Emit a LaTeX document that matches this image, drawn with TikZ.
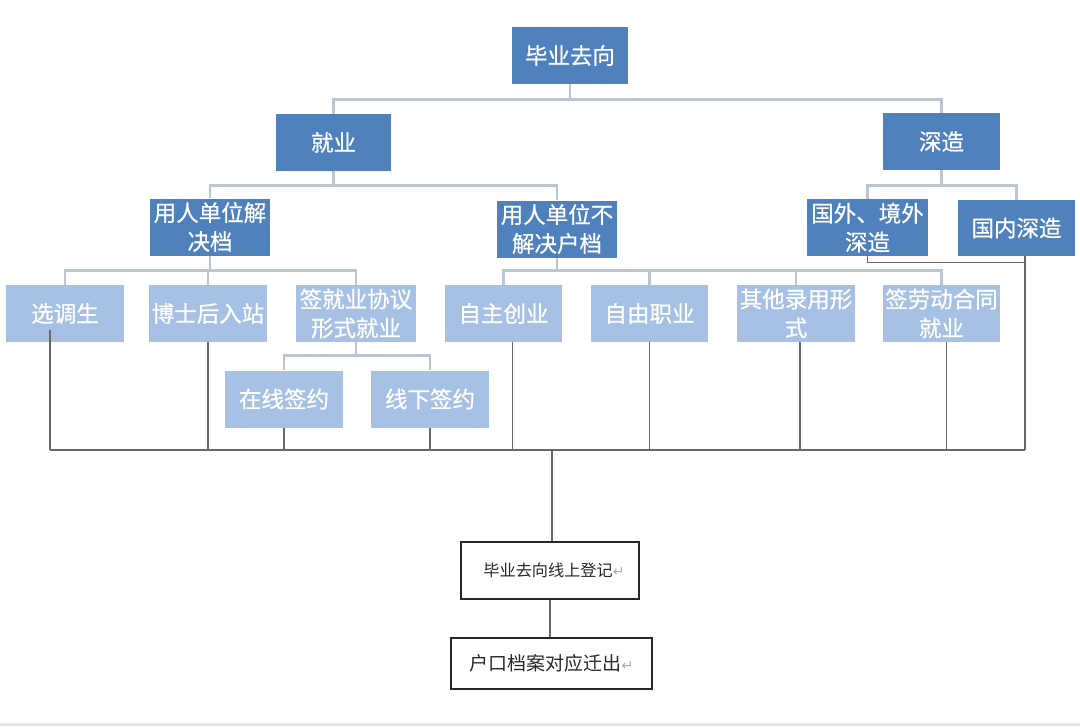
\documentclass[tikz,border=0pt]{standalone}
\usepackage{fontspec}
\usepackage{xcolor}
\usepackage{tikz}
\usetikzlibrary{positioning, calc}
\setmainfont{Noto Sans CJK SC}
\newfontfamily\boxfont{Noto Sans CJK SC}[FakeBold=0.6]
\newfontfamily\markfont{DejaVu Sans}
\definecolor{deepblue}{RGB}{79, 129, 189}
\definecolor{paleblue}{RGB}{166, 193, 227}
\definecolor{linegray}{RGB}{188, 198, 210}
\definecolor{wiregray}{RGB}{105, 105, 105}
\definecolor{inkgray}{RGB}{40, 40, 40}
\definecolor{markgray}{RGB}{170, 170, 170}
\definecolor{stripgray}{RGB}{228, 228, 228}
\newcommand{\pmark}{{\markfont\fontsize{10}{10}\selectfont\color{markgray}↵}}
\tikzset{
  deepbox/.style={rectangle, fill=deepblue, text=white, minimum width=#1,
              minimum height=1.425cm, inner sep=1pt, align=center,
              font=\boxfont\fontsize{16}{20.5}\selectfont},
  deepbox/.default=2.9cm,
  palebox/.style={rectangle, fill=paleblue, text=white, minimum width=#1,
              minimum height=1.425cm, inner sep=1pt, align=center,
              font=\boxfont\fontsize{16}{20.5}\selectfont},
  palebox/.default=2.925cm,
  wordbox/.style={rectangle, draw=inkgray, line width=0.8pt, fill=white,
              text=inkgray, minimum width=#1, minimum height=1.425cm,
              inner sep=1pt, align=center},
  wordbox/.default=4.45cm,
  treeline/.style={line width=2pt, color=linegray},
  lowline/.style={line width=0.9pt, color=wiregray},
}
\begin{document}
\begin{tikzpicture}[x=0.025cm, y=-0.025cm]
  \useasboundingbox (0,0) rectangle (1080,726);
  \fill[stripgray] (0,723) rectangle (1080,726);

  % top levels
  \node[deepbox] (dest_t) at (570,55.5) {毕业去向};
  \node[deepbox=2.875cm] (job_t) at (333.5,142.5) {就业};
  \node[deepbox=2.925cm] (study_t) at (941.5,141.5) {深造};

  \node[deepbox=3cm] (archive_t) at (210,227) {用人单位解\\决档};
  \node[deepbox=3cm] (noarchive_t) at (557,229) {用人单位不\\解决户档};
  \node[deepbox=3.025cm] (abroad_t) at (867.5,227.5) {国外、境外\\深造};
  \node[deepbox=2.925cm, minimum height=1.4cm] (domestic_t) at (1016.5,228) {国内深造};

  % third row
  \node[palebox] (select_t) at (65,313.5) {选调生};
  \node[palebox] (postdoc_t) at (208,313.5) {博士后入站};
  \node[palebox=3cm] (contract_t) at (356,313.5) {签就业协议\\形式就业};
  \node[palebox] (startup_t) at (503.5,313.5) {自主创业};
  \node[palebox] (freelance_t) at (649.5,313.5) {自由职业};
  \node[palebox] (other_t) at (796,313.5) {其他录用形\\式};
  \node[palebox] (labour_t) at (941.5,313.5) {签劳动合同\\就业};

  \node[palebox=2.95cm] (online_t) at (284,399) {在线签约};
  \node[palebox=2.95cm] (offline_t) at (430,399) {线下签约};

  % procedure
  \node[wordbox, font=\fontsize{11.5}{14}\selectfont] (register_t) at (550,570.5) {\hspace*{0.2cm}毕业去向线上登记\pmark};
  \node[wordbox=5.025cm, minimum height=1.275cm, font=\fontsize{13.5}{16}\selectfont] (transfer_t) at (551.5,663.5) {户口档案对应迁出\pmark};

  \draw[treeline] (dest_t.south) -- ++(0,15) -| (job_t.north);
  \draw[treeline] (dest_t.south) -- ++(0,15) -| (study_t.north);
  \draw[treeline] (job_t.south) -- ++(0,14) -| (archive_t.north);
  \draw[treeline] (job_t.south) -- ++(0,14) -| (noarchive_t.north);
  \draw[treeline] (study_t.south) -- ++(0,15) -| (abroad_t.north);
  \draw[treeline] (study_t.south) -- ++(0,15) -| (domestic_t.north);
  \draw[treeline] (archive_t.south) -- ++(0,15) -| (select_t.north);
  \draw[treeline] (archive_t.south) -- ++(0,15) -| (postdoc_t.north);
  \draw[treeline] (archive_t.south) -- ++(0,15) -| (contract_t.north);
  \draw[treeline] (noarchive_t.south) -- ++(0,13) -| (startup_t.north);
  \draw[treeline] (noarchive_t.south) -- ++(0,13) -| (freelance_t.north);
  \draw[treeline] (noarchive_t.south) -- ++(0,13) -| (other_t.north);
  \draw[treeline] (noarchive_t.south) -- ++(0,13) -| (labour_t.north);
  \draw[treeline] (contract_t.south) -- ++(0,13) -| (online_t.north);
  \draw[treeline] (contract_t.south) -- ++(0,13) -| (offline_t.north);

  % collecting line
  \coordinate (bus_l) at (50,450);
  \coordinate (bus_r) at (1025,450);
  \coordinate (bus_m) at (552,450);
  \draw[lowline] (bus_l) -- (bus_r);
  \draw[lowline] ([yshift=0.3cm]select_t.south -| bus_l) -- (bus_l);
  \draw[lowline] (postdoc_t.south) -- (postdoc_t.south |- bus_l);
  \draw[lowline] (online_t.south) -- (online_t.south |- bus_l);
  \draw[lowline] (offline_t.south) -- (offline_t.south |- bus_l);
  \draw[lowline] ([xshift=0.225cm]startup_t.south) -- ([xshift=0.225cm]startup_t.south |- bus_l);
  \draw[lowline] (freelance_t.south) -- (freelance_t.south |- bus_l);
  \draw[lowline] ([xshift=0.1cm]other_t.south) -- ([xshift=0.1cm]other_t.south |- bus_l);
  \draw[lowline] ([xshift=0.125cm]labour_t.south) -- ([xshift=0.125cm]labour_t.south |- bus_l);
  \draw[lowline] (domestic_t.south -| bus_r) -- (bus_r);
  \draw[lowline] (abroad_t.south) -- ++(0,6) -| (bus_r);
  \draw[lowline] (bus_m) -- (bus_m |- register_t.north);
  \draw[lowline] (register_t.south) -- (register_t.south |- transfer_t.north);
\end{tikzpicture}
\end{document}
